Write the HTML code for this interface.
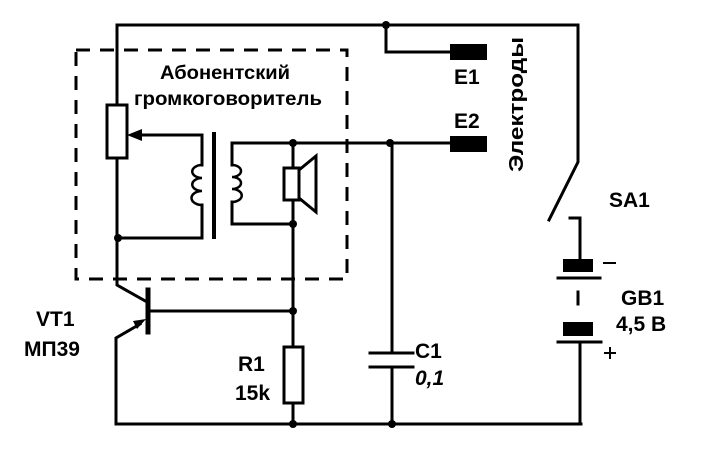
<!DOCTYPE html>
<html><head><meta charset="utf-8"><style>
html,body{margin:0;padding:0;background:#fff;}
svg{display:block}
text{font-family:"Liberation Sans","DejaVu Sans",sans-serif;font-weight:bold;fill:#000}
</style></head><body>
<svg width="703" height="451" viewBox="0 0 703 451" xmlns="http://www.w3.org/2000/svg">
<g stroke="#000" stroke-width="3" fill="none" stroke-linecap="square">
<polyline points="117,105 117,25 578,25 578,162 549,220"/>
<polyline points="386,25 386,52 452,52"/>
<rect x="76" y="50" width="271" height="229" stroke-dasharray="14,10" stroke-linecap="butt"/>
<rect x="107" y="105" width="20" height="53"/>
<polyline points="117,158 117,285 147,302"/>
<polyline points="140,135 202,135 202,165"/>
<polyline points="202,205 202,238 117,238"/>
<path d="M202,165 a9,6 0 1,0 0,13 a9,6 0 1,0 0,13 a9,6 0 1,0 0,14" stroke-width="2.5"/>
<line x1="214" y1="134" x2="214" y2="237" stroke-width="4"/>
<polyline points="232,165 232,143 450,143"/>
<path d="M232,165 a9,6 0 1,1 0,12 a9,6 0 1,1 0,12 a9,6 0 1,1 0,13" stroke-width="2.5"/>
<polyline points="232,202 232,224 293,224"/>
<line x1="293" y1="143" x2="293" y2="168"/>
<rect x="284" y="168" width="15" height="32"/>
<polygon points="299,170 316,156 316,212 299,198"/>
<line x1="293" y1="200" x2="293" y2="347"/>
<line x1="148" y1="290" x2="148" y2="332" stroke-width="5"/>
<line x1="150" y1="311" x2="293" y2="311"/>
<polyline points="140,324 116,338 116,424 581,424"/>
<rect x="284" y="347" width="19" height="56"/>
<line x1="293" y1="403" x2="293" y2="424"/>
<line x1="392" y1="143" x2="392" y2="353"/>
<line x1="370" y1="353" x2="413" y2="353"/>
<line x1="370" y1="367" x2="413" y2="367"/>
<line x1="392" y1="367" x2="392" y2="424"/>
<polyline points="570,218 580,218 580,261"/>
<line x1="558" y1="278" x2="600" y2="278"/>
<line x1="578" y1="292" x2="578" y2="304"/>
<line x1="558" y1="342" x2="601" y2="342"/>
<line x1="580" y1="342" x2="580" y2="424"/>
<line x1="604" y1="263" x2="615" y2="263" stroke-width="2"/>
<line x1="605" y1="353" x2="615" y2="353" stroke-width="2"/>
<line x1="610" y1="348" x2="610" y2="358" stroke-width="2"/>
</g>
<polygon points="127,135 142,129 142,141" fill="#000"/>
<polygon points="146,319 133,321 137,329" fill="#000"/>
<rect x="450" y="44" width="37" height="16" fill="#000"/>
<rect x="450" y="136" width="37" height="16" fill="#000"/>
<rect x="563" y="259" width="30" height="13" fill="#000"/>
<rect x="563" y="322" width="30" height="14" fill="#000"/>
<g fill="#000">
<circle cx="386" cy="25" r="4"/><circle cx="390" cy="143" r="4"/><circle cx="293" cy="143" r="4"/>
<circle cx="293" cy="224" r="4"/><circle cx="118" cy="238" r="4"/><circle cx="293" cy="311" r="4"/>
<circle cx="293" cy="424" r="4"/><circle cx="392" cy="424" r="4"/>
</g>
<text x="225" y="79" font-size="19" text-anchor="middle" textLength="130" lengthAdjust="spacingAndGlyphs">Абонентский</text>
<text x="228" y="105" font-size="19" text-anchor="middle" textLength="188" lengthAdjust="spacingAndGlyphs">громкоговоритель</text>
<text x="454" y="84" font-size="21">E1</text>
<text x="454" y="128" font-size="21">E2</text>
<text transform="translate(523,172) rotate(-90)" font-size="20" textLength="135" lengthAdjust="spacingAndGlyphs">Электроды</text>
<text x="609" y="207" font-size="21">SA1</text>
<text x="621" y="305" font-size="21">GB1</text>
<text x="616" y="331" font-size="21">4,5 В</text>
<text x="415" y="358" font-size="21">C1</text>
<text x="415" y="385" font-size="21" font-style="italic">0,1</text>
<text x="238" y="371" font-size="21">R1</text>
<text x="235" y="400" font-size="21">15k</text>
<text x="36" y="326" font-size="21">VT1</text>
<text x="24" y="356" font-size="21">МП39</text>
</svg>
</body></html>
